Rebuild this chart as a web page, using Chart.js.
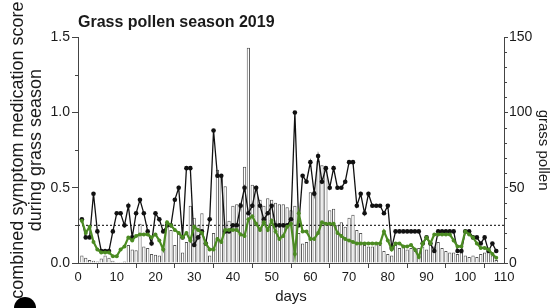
<!DOCTYPE html>
<html>
<head>
<meta charset="utf-8">
<script src="https://cdn.jsdelivr.net/npm/chart.js@4.4.1/dist/chart.umd.min.js"></script>
<style>
  body { margin: 0; background: #fff; }
  #wrap { position: relative; width: 553px; height: 308px; overflow: hidden; }
  #panel { position: absolute; left: 14px; top: 297px; width: 22px; height: 22px; border-radius: 50%; background: #000; }
</style>
</head>
<body>
<div id="wrap">
  <canvas id="chart" width="553" height="308"></canvas>
  <div id="panel"></div>
</div>
<script>
// days of the grass pollen season
const days = [1, 2, 3, 4, 5, 6, 7, 8, 9, 10,
    11, 12, 13, 14, 15, 16, 17, 18, 19, 20,
    21, 22, 23, 24, 25, 26, 27, 28, 29, 30,
    31, 32, 33, 34, 35, 36, 37, 38, 39, 40,
    41, 42, 43, 44, 45, 46, 47, 48, 49, 50,
    51, 52, 53, 54, 55, 56, 57, 58, 59, 60,
    61, 62, 63, 64, 65, 66, 67, 68, 69, 70,
    71, 72, 73, 74, 75, 76, 77, 78, 79, 80,
    81, 82, 83, 84, 85, 86, 87, 88, 89, 90,
    91, 92, 93, 94, 95, 96, 97, 98, 99, 100,
    101, 102, 103, 104, 105, 106, 107, 108];

// combined symptom medication score (black)
const scoreBlack = [0.29, 0.17, 0.17, 0.46, 0.21, 0.08, 0.08, 0.08, 0.21, 0.33,
    0.33, 0.25, 0.38, 0.17, 0.33, 0.42, 0.33, 0.21, 0.13, 0.33,
    0.29, 0.21, 0.25, 0.25, 0.42, 0.50, 0.17, 0.63, 0.63, 0.12,
    0.17, 0.21, 0.13, 0.29, 0.88, 0.58, 0.58, 0.21, 0.21, 0.25,
    0.25, 0.38, 0.50, 0.33, 0.38, 0.50, 0.38, 0.29, 0.33, 0.38,
    0.25, 0.25, 0.25, 0.25, 0.29, 1.00, 0.25, 0.58, 0.54, 0.67,
    0.46, 0.71, 0.54, 0.63, 0.50, 0.63, 0.50, 0.50, 0.54, 0.67,
    0.67, 0.38, 0.46, 0.33, 0.46, 0.38, 0.38, 0.38, 0.33, 0.38,
    0.10, 0.21, 0.21, 0.21, 0.21, 0.21, 0.21, 0.21, 0.13, 0.17,
    0.13, 0.08, 0.21, 0.21, 0.21, 0.21, 0.21, 0.08, 0.08, 0.21,
    0.21, 0.17, 0.17, 0.13, 0.17, 0.08, 0.13, 0.08];

// combined symptom medication score (green)
const scoreGreen = [0.28, 0.20, 0.24, 0.14, 0.09, 0.07, 0.07, 0.07, 0.045, 0.045,
    0.09, 0.11, 0.17, 0.15, 0.18, 0.19, 0.19, 0.19, 0.17, 0.19,
    0.15, 0.09, 0.27, 0.25, 0.22, 0.20, 0.17, 0.20, 0.15, 0.24,
    0.22, 0.20, 0.13, 0.09, 0.09, 0.16, 0.14, 0.22, 0.22, 0.22,
    0.22, 0.19, 0.18, 0.29, 0.31, 0.26, 0.22, 0.27, 0.22, 0.28,
    0.21, 0.16, 0.18, 0.24, 0.26, 0.06, 0.33, 0.21, 0.21, 0.16,
    0.16, 0.20, 0.27, 0.26, 0.26, 0.26, 0.20, 0.18, 0.16, 0.15,
    0.14, 0.13, 0.13, 0.13, 0.13, 0.13, 0.13, 0.13, 0.21, 0.15,
    0.09, 0.13, 0.13, 0.11, 0.11, 0.12, 0.09, 0.04, 0.13, 0.17,
    0.13, 0.19, 0.19, 0.19, 0.19, 0.19, 0.15, 0.11, 0.11, 0.21,
    0.19, 0.17, 0.13, 0.10, 0.10, 0.09, 0.06, 0.035];

// daily grass pollen count (bars, right axis)
const pollen = [5, 3.5, 2, 1.5, 1, 3, 5, 3.5, 1.5, 0.5,
    0.5, 1, 12, 9, 8.5, 26, 11, 10, 6, 5.5,
    5, 10, 27, 22, 12, 21, 7, 14, 38, 30,
    25, 33, 13, 5, 20, 62, 59, 51, 28, 38,
    39, 40, 64, 143, 52, 51, 42, 38, 43, 42,
    40, 39, 39, 37, 35, 38, 20, 13, 14, 47,
    48, 68, 65, 64, 35, 36, 25, 27, 24, 30,
    32, 22, 20, 12, 11, 11, 13, 12, 8, 6,
    5, 12, 10, 11, 9, 10, 8, 10, 11, 9,
    15, 11, 14, 10, 8, 7, 7, 6, 7, 5,
    4, 5, 4, 6, 7, 8, 5, 2];

// dotted threshold line
const thresholdX = [0, 110];
const thresholdY = [0.25, 0.25];

// axis ticks
const leftMinor = [0.25, 0.75, 1.25];
const rightMinor = [10, 20, 30, 40, 60, 70, 80, 90, 110, 120, 130, 140];

const FONT = "'Liberation Sans', Arial, sans-serif";
const AXIS = '#444';
const TEXT = '#1a1a1a';

const toPoints = (xs, ys) => xs.map((x, i) => ({ x: x, y: ys[i] }));

// short minor tick marks on both y axes
const minorTicks = {
    id: 'minorTicks',
    afterDraw(chart) {
        const ctx = chart.ctx;
        const yl = chart.scales.y;
        const yr = chart.scales.y2;
        ctx.save();
        ctx.strokeStyle = AXIS;
        ctx.lineWidth = 1;
        leftMinor.forEach(v => {
            const py = Math.round(yl.getPixelForValue(v)) + 0.5;
            ctx.beginPath();
            ctx.moveTo(yl.right - 3, py);
            ctx.lineTo(yl.right, py);
            ctx.stroke();
        });
        rightMinor.forEach(v => {
            const py = Math.round(yr.getPixelForValue(v)) + 0.5;
            ctx.beginPath();
            ctx.moveTo(yr.left, py);
            ctx.lineTo(yr.left + 3, py);
            ctx.stroke();
        });
        ctx.restore();
    }
};

new Chart(document.getElementById('chart'), {
    type: 'line',
    data: {
        datasets: [
            {
                type: 'line',
                data: toPoints(days, scoreGreen),
                yAxisID: 'y',
                borderColor: '#4b8b22',
                backgroundColor: '#4b8b22',
                borderWidth: 2.2,
                pointRadius: 2,
                pointBorderWidth: 0,
                tension: 0,
                order: 1
            },
            {
                type: 'line',
                data: toPoints(days, scoreBlack),
                yAxisID: 'y',
                borderColor: '#111',
                backgroundColor: '#111',
                borderWidth: 1.3,
                pointRadius: 2.3,
                pointBorderWidth: 0,
                tension: 0,
                order: 2
            },
            {
                type: 'line',
                data: toPoints(thresholdX, thresholdY),
                yAxisID: 'y',
                borderColor: '#333',
                borderWidth: 1.2,
                borderDash: [2, 2],
                pointRadius: 0,
                order: 3
            },
            {
                type: 'bar',
                data: toPoints(days, pollen),
                yAxisID: 'y2',
                backgroundColor: '#fff',
                borderColor: '#555',
                borderWidth: 1,
                barPercentage: 0.85,
                categoryPercentage: 1,
                order: 4
            }
        ]
    },
    options: {
        responsive: false,
        devicePixelRatio: 1,
        animation: false,
        layout: { padding: 0 },
        plugins: {
            legend: { display: false },
            tooltip: { enabled: false },
            title: {
                display: true,
                text: 'Grass pollen season 2019',
                align: 'start',
                fullSize: false,
                color: TEXT,
                font: { family: FONT, size: 16, weight: 'bold' },
                padding: { top: 13, bottom: 5 }
            }
        },
        scales: {
            x: {
                type: 'linear',
                min: 0,
                max: 110,
                offset: false,
                afterFit: s => { s.height = 45; },
                ticks: { stepSize: 10, color: TEXT, font: { family: FONT, size: 13 }, padding: 2, maxRotation: 0 },
                grid: { drawOnChartArea: false, tickLength: 5, color: AXIS },
                border: { color: AXIS },
                title: { display: true, text: 'days', color: TEXT, font: { family: FONT, size: 15 }, padding: { top: 0, bottom: 2 } }
            },
            y: {
                position: 'left',
                min: 0,
                max: 1.5,
                afterFit: s => { s.width = 78; },
                ticks: { stepSize: 0.5, color: TEXT, font: { family: FONT, size: 14 }, padding: 2, callback: v => v.toFixed(1) },
                grid: { drawOnChartArea: false, tickLength: 6, color: AXIS },
                border: { color: AXIS },
                title: {
                    display: true,
                    text: ['combined symptom medication score', 'during grass season'],
                    color: TEXT,
                    font: { family: FONT, size: 18, lineHeight: 1.0 },
                    padding: { top: 9, bottom: 0 }
                }
            },
            y2: {
                position: 'right',
                min: 0,
                max: 150,
                afterFit: s => { s.width = 49; },
                ticks: { stepSize: 50, color: TEXT, font: { family: FONT, size: 14 }, padding: 1 },
                grid: { drawOnChartArea: false, tickLength: 4, color: AXIS },
                border: { color: AXIS },
                title: { display: true, text: 'grass pollen', color: TEXT, font: { family: FONT, size: 15 }, padding: { top: 1, bottom: 0 } }
            }
        }
    },
    plugins: [minorTicks]
});
</script>
</body>
</html>
